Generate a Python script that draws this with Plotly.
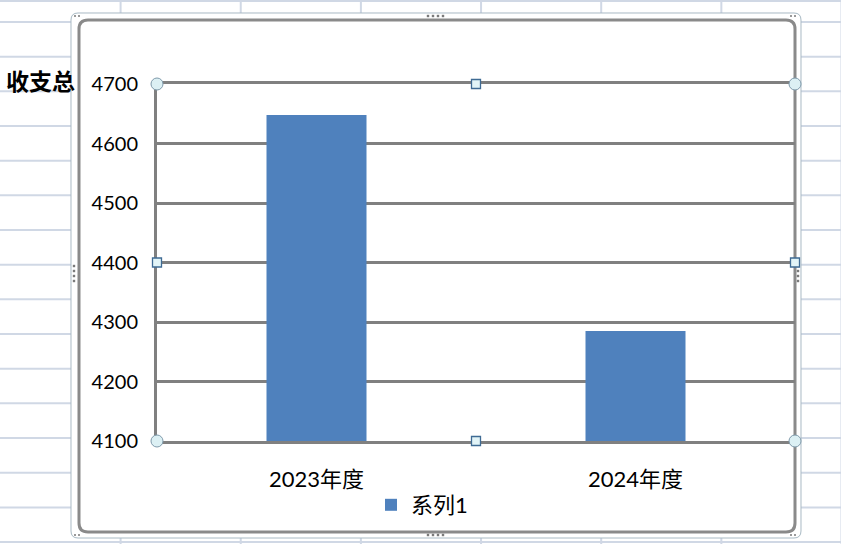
import plotly.graph_objects as go

# ---------------- data ----------------
categories = ["2023年度", "2024年度"]
values = [4648, 4285]
series_name = "系列1"
y_ticks = [4100, 4200, 4300, 4400, 4500, 4600, 4700]
cell_text = "收支总"

# ---------------- geometry helpers (pixel -> paper) ----------------
W, H = 841, 544
PL, PR, PT, PB = 157, 795, 84, 441  # plot area in pixels


def px(x):
    return (x - PL) / (PR - PL)


def py(y):
    return (PB - y) / (PB - PT)


def rounded_rect_path(x0, y0, x1, y1, r):
    def P(x, y):
        return f"{px(x):.5f},{py(y):.5f}"
    return (
        f"M{P(x0 + r, y0)} L{P(x1 - r, y0)} Q{P(x1, y0)} {P(x1, y0 + r)} "
        f"L{P(x1, y1 - r)} Q{P(x1, y1)} {P(x1 - r, y1)} "
        f"L{P(x0 + r, y1)} Q{P(x0, y1)} {P(x0, y1 - r)} "
        f"L{P(x0, y0 + r)} Q{P(x0, y0)} {P(x0 + r, y0)} Z"
    )


fig = go.Figure()
fig.add_trace(go.Bar(
    x=categories, y=values, name=series_name,
    marker=dict(color="#4f81bd", line=dict(width=0)),
    showlegend=True,
))

shapes = []
# spreadsheet grid (background)
grid_col = "#d0d8e5"
row_y = [1] + [22 + 34.67 * k for k in range(16)]
for yy in row_y:
    shapes.append(dict(type="line", xref="paper", yref="paper",
                       x0=px(0), x1=px(W), y0=py(yy), y1=py(yy),
                       line=dict(color=grid_col, width=2), layer="below"))
col_x = [120.6 + 120.15 * k for k in range(7)]
for xx in col_x:
    shapes.append(dict(type="line", xref="paper", yref="paper",
                       x0=px(xx), x1=px(xx), y0=py(0), y1=py(H),
                       line=dict(color=grid_col, width=2), layer="below"))
# selection frame (white fill, thin outline)
shapes.append(dict(type="path", xref="paper", yref="paper",
                   path=rounded_rect_path(71, 13, 801, 538, 7),
                   fillcolor="white", line=dict(color="#a9bac4", width=1),
                   layer="below"))
# chart border
shapes.append(dict(type="path", xref="paper", yref="paper",
                   path=rounded_rect_path(79, 20, 795, 532, 9),
                   fillcolor="white", line=dict(color="#8a8a8a", width=3),
                   layer="below"))

# frame dots
dot_col = "#7a7a7a"
for xx in [428, 433, 438, 443]:
    for yy in [16, 535]:
        shapes.append(dict(type="rect", xref="paper", yref="paper",
                           x0=px(xx - 1.2), x1=px(xx + 1.2), y0=py(yy - 1.2), y1=py(yy + 1.2),
                           fillcolor=dot_col, line=dict(width=0), layer="above"))
for yy in [266, 271, 276, 281]:
    for xx in [74, 798]:
        shapes.append(dict(type="rect", xref="paper", yref="paper",
                           x0=px(xx - 1.2), x1=px(xx + 1.2), y0=py(yy - 1.2), y1=py(yy + 1.2),
                           fillcolor=dot_col, line=dict(width=0), layer="above"))
for (xx, yy) in [(75, 16), (79, 16), (791, 16), (795, 16), (75, 535), (79, 535), (791, 535), (795, 535)]:
    shapes.append(dict(type="rect", xref="paper", yref="paper",
                       x0=px(xx - 1), x1=px(xx + 1), y0=py(yy - 1), y1=py(yy + 1),
                       fillcolor="#9a9a9a", line=dict(width=0), layer="above"))

# plot-area handles
for ax in [0, 1]:
    for ay in [0, 1]:
        shapes.append(dict(type="circle", xref="paper", yref="paper",
                           xsizemode="pixel", ysizemode="pixel",
                           xanchor=ax, yanchor=ay, x0=-6, x1=6, y0=-6, y1=6,
                           fillcolor="#dcf0f4", line=dict(color="#7f9aab", width=1),
                           layer="above"))
for (ax, ay) in [(0.5, 0), (0.5, 1), (0, 0.5), (1, 0.5)]:
    shapes.append(dict(type="rect", xref="paper", yref="paper",
                       xsizemode="pixel", ysizemode="pixel",
                       xanchor=ax, yanchor=ay, x0=-4.5, x1=4.5, y0=-4.5, y1=4.5,
                       fillcolor="#e2f4f7", line=dict(color="#3f6b94", width=1.3),
                       layer="above"))

fig.update_layout(
    width=W, height=H,
    margin=dict(l=PL, r=W - PR, t=PT, b=H - PB, pad=0),
    paper_bgcolor="white",
    plot_bgcolor="rgba(0,0,0,0)",
    bargap=1 - 100 / 319,
    font=dict(family="Lato, 'Noto Sans CJK SC', sans-serif", size=20, color="black"),
    shapes=shapes,
    showlegend=True,
    legend=dict(orientation="h", x=px(371), xanchor="left", y=py(505), yanchor="middle",
                bgcolor="rgba(0,0,0,0)", font=dict(size=22)),
    annotations=[dict(text=cell_text, xref="paper", yref="paper",
                      x=px(4), y=py(80), xanchor="left", yanchor="middle",
                      showarrow=False,
                      font=dict(family="'Noto Sans CJK SC'", size=23, color="black", weight="bold"))],
)
fig.update_xaxes(showgrid=False, showline=True, mirror=True, linecolor="#808080", linewidth=3,
                 ticks="", ticklabelstandoff=17, zeroline=False, tickfont=dict(size=22))
fig.update_yaxes(range=[y_ticks[0], y_ticks[-1]], tickvals=y_ticks, showgrid=True,
                 gridcolor="#808080", gridwidth=3, showline=True, linecolor="#808080",
                 linewidth=3, ticks="", ticklabelstandoff=12, zeroline=False)

fig.write_html("out.html", config={"displayModeBar": False},
               post_script="document.body.style.margin='0';")
